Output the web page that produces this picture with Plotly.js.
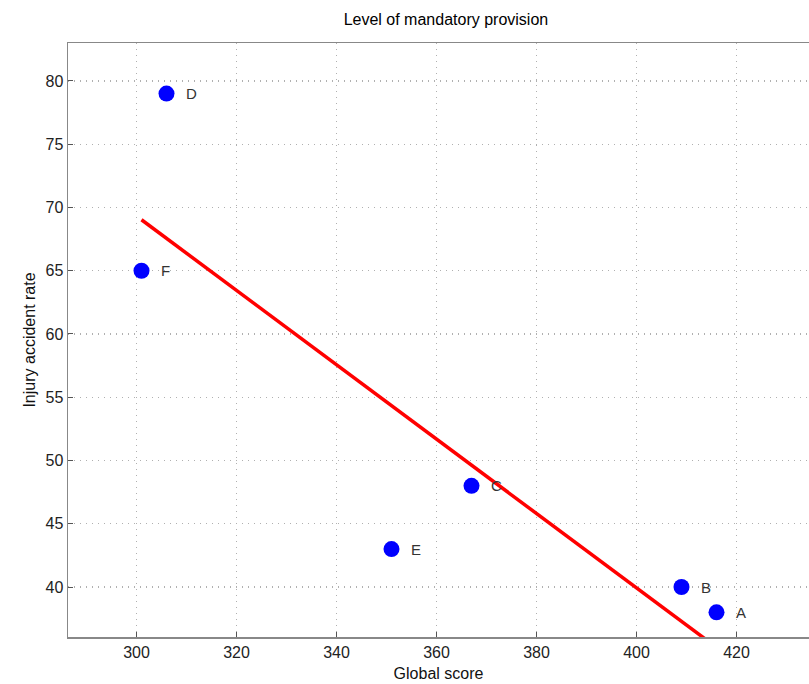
<!DOCTYPE html>
<html>
<head>
<meta charset="utf-8">
<script src="https://cdn.plot.ly/plotly-3.0.1.min.js"></script>
<style>html,body{margin:0;padding:0;background:#fff;}#chart{width:809px;height:684px;}</style>
</head>
<body>
<div id="chart"></div>
<script>
// Data
const labels = ["A", "B", "C", "D", "E", "F"];
const globalScore = [416, 409, 367, 306, 351, 301];
const injuryRate = [38, 40, 48, 79, 43, 65];
// Fitted line endpoints (red)
const fitX = [301, 416];
const fitY = [69.03, 35.23];

const fontFam = "Liberation Sans, Arial, sans-serif";

const traces = [
  {
    x: fitX, y: fitY, mode: "lines", type: "scatter",
    line: {color: "#ff0000", width: 3.5},
    hoverinfo: "skip", showlegend: false
  },
  {
    x: globalScore, y: injuryRate, mode: "markers", type: "scatter",
    marker: {color: "#0000ff", size: 16, line: {width: 0}},
    showlegend: false
  }
];

const annotations = labels.map((t, i) => ({
  x: globalScore[i], y: injuryRate[i], xref: "x", yref: "y",
  text: t, showarrow: false, xanchor: "left", yanchor: "middle",
  xshift: 17, font: {family: fontFam, size: 15, color: "#333333"}
}));

const layout = {
  width: 809, height: 684,
  margin: {l: 68, r: 0, t: 43, b: 47},
  paper_bgcolor: "#ffffff", plot_bgcolor: "#ffffff",
  showlegend: false,
  title: {
    text: "Level of mandatory provision",
    font: {family: fontFam, size: 16, color: "#000000"},
    x: 0.51, xref: "paper", y: 0.971, yref: "container", yanchor: "middle"
  },
  xaxis: {
    range: [286.3, 434.5], dtick: 20, tick0: 300,
    showgrid: true, gridcolor: "#b0b0b0", griddash: "1px,5px", gridwidth: 1.2,
    zeroline: false, showline: true, linecolor: "#888888", linewidth: 1.5, mirror: true,
    ticks: "inside", ticklen: 5, tickcolor: "#555555",
    tickfont: {family: fontFam, size: 16, color: "#222222"},
    title: {text: "Global score", font: {family: fontFam, size: 16, color: "#111111"}, standoff: 8}
  },
  yaxis: {
    range: [36.05, 83], dtick: 5, tick0: 40,
    showgrid: true, gridcolor: "#b0b0b0", griddash: "1px,5px", gridwidth: 1.2,
    zeroline: false, showline: true, linecolor: "#888888", linewidth: 1.5, mirror: false,
    ticks: "inside", ticklen: 5, tickcolor: "#555555",
    tickfont: {family: fontFam, size: 16, color: "#222222"},
    title: {text: "Injury accident rate", font: {family: fontFam, size: 16, color: "#111111"}, standoff: 6}
  },
  annotations: annotations
};

Plotly.newPlot("chart", traces, layout, {displayModeBar: false, staticPlot: true});
</script>
</body>
</html>
